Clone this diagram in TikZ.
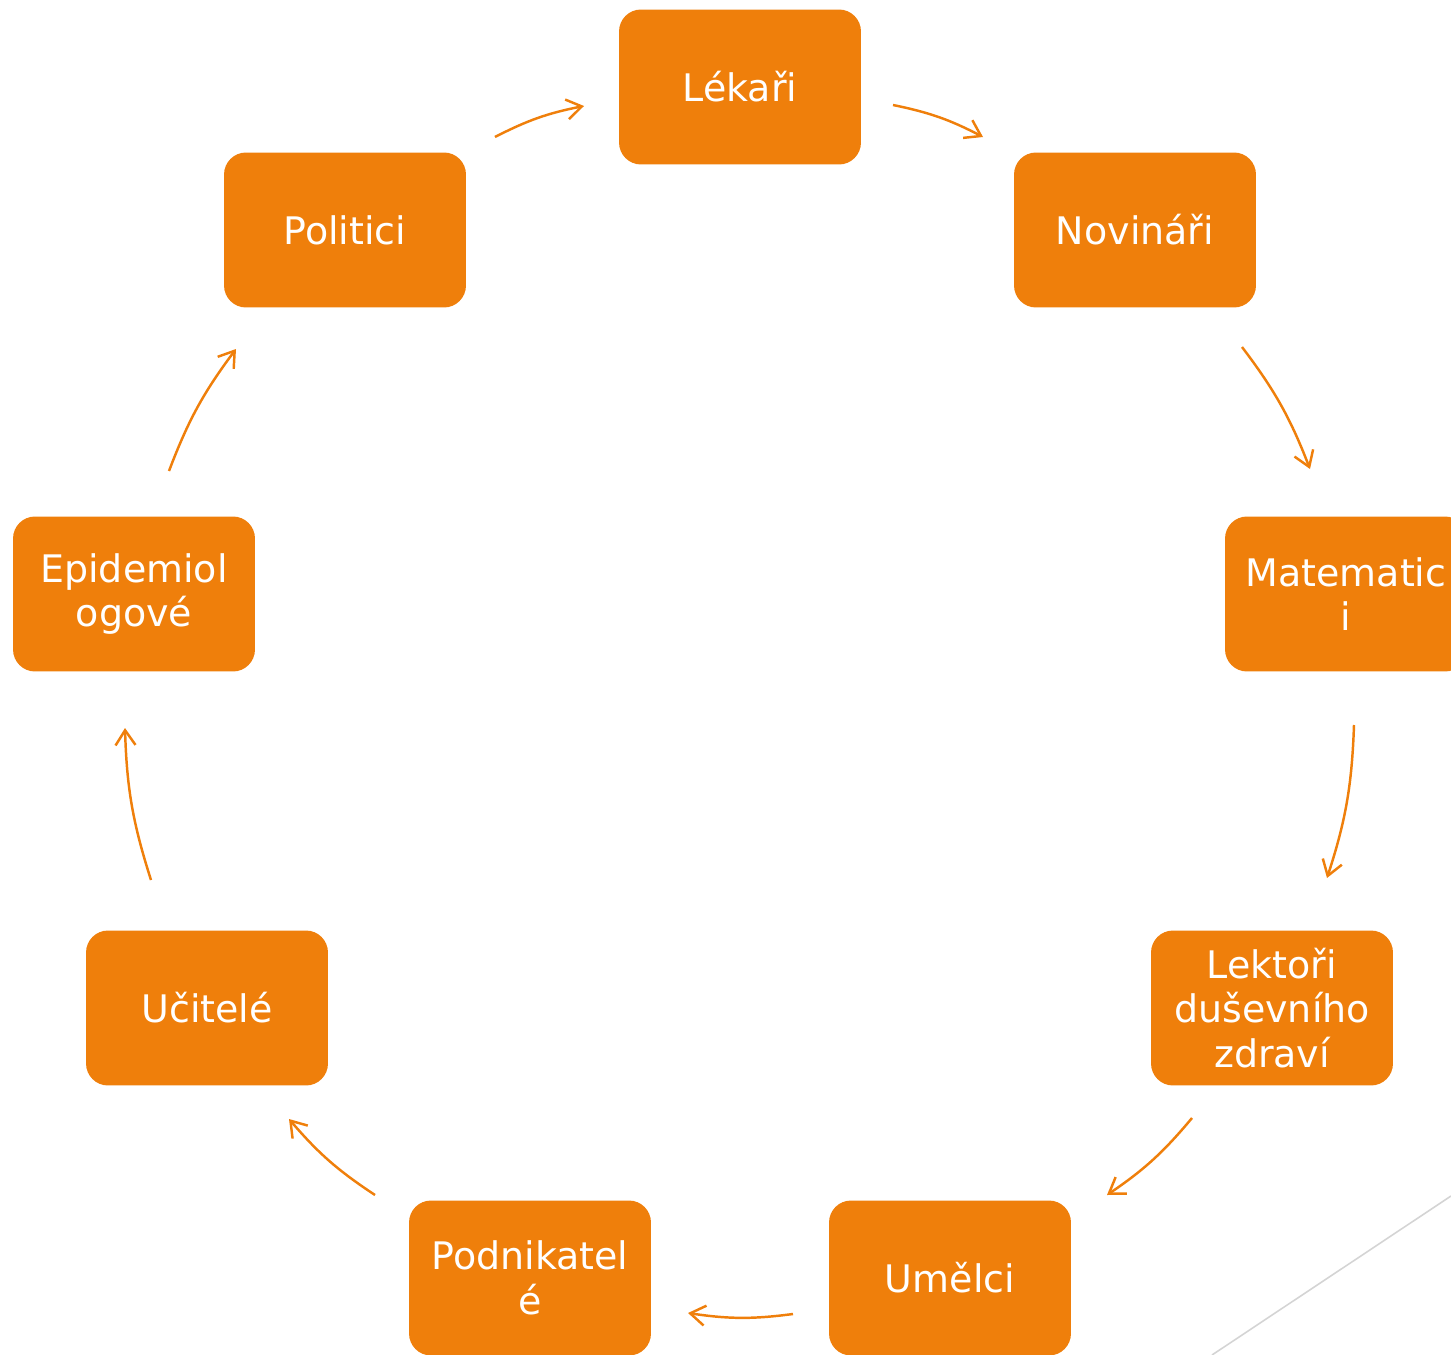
\documentclass[tikz,border=0pt]{standalone}
\usepackage{fontspec}
\setmainfont{DejaVu Sans}
\usetikzlibrary{arrows.meta}
\definecolor{boxorange}{HTML}{EF7F0B}
\definecolor{edgegrey}{HTML}{D4D4D4}
\tikzset{>={Straight Barb[length=0.3cm,width=0.4cm]}}
\tikzset{
  role/.style={fill=boxorange, rounded corners=0.44cm, minimum width=4.84cm,
    minimum height=3.1cm, text=white, align=center, inner sep=0pt,
    font=\fontsize{21.6}{25.4}\selectfont},
  flow/.style={->, draw=boxorange, line width=1.4pt, bend left=8}
}

\begin{document}
\begin{tikzpicture}[x=0.02cm, y=-0.02cm]
      \useasboundingbox (0,0) rectangle (1451,1355);
      \node[role] (lekari) at (740,87) {Lékaři};
      \node[role] (novinari) at (1135,230) {Novináři};
      \node[role] (matematici) at (1346,594) {Matematic\\i};
      \node[role] (lektori) at (1272,1008) {Lektoři\\duševního\\zdraví};
      \node[role] (umelci) at (950,1278) {Umělci};
      \node[role] (podnikatele) at (530,1278) {Podnikatel\\é};
      \node[role] (ucitele) at (207,1008) {Učitelé};
      \node[role] (epidem) at (134,594) {Epidemiol\\ogové};
      \node[role] (politici) at (345,230) {Politici};
      \coordinate (a1) at (495,137);  \coordinate (b1) at (584,106);
      \coordinate (a2) at (893,105);  \coordinate (b2) at (983,137);
      \coordinate (a3) at (1242,347); \coordinate (b3) at (1310,469);
      \coordinate (a4) at (1354,725); \coordinate (b4) at (1327,878);
      \coordinate (a5) at (1192,1118); \coordinate (b5) at (1107,1195);
      \coordinate (a6) at (793,1314); \coordinate (b6) at (688,1313);
      \coordinate (a7) at (375,1195); \coordinate (b7) at (289,1119);
      \coordinate (a8) at (151,880);  \coordinate (b8) at (125,728);
      \coordinate (a9) at (169,471);  \coordinate (b9) at (236,349);
      \foreach \i in {1,...,9}
        \draw[flow] (a\i) to (b\i);
      \coordinate (g1) at (1451,1196); \coordinate (g2) at (1212,1355);
      \draw[edgegrey, line width=0.9pt] (g1) -- (g2);
\end{tikzpicture}
\end{document}
